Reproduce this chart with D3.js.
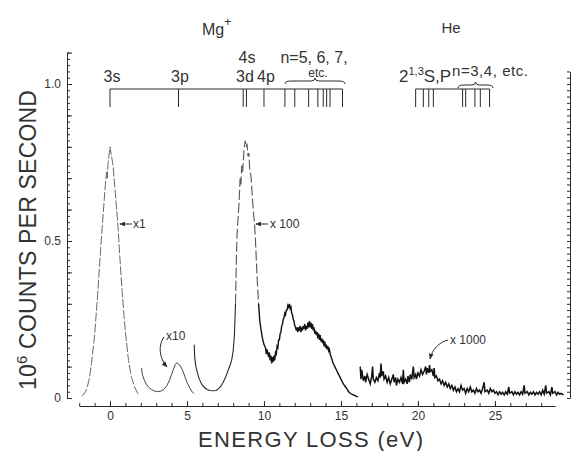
<!DOCTYPE html>
<html>
<head>
<meta charset="utf-8">
<script src="https://cdn.jsdelivr.net/npm/d3@7"></script>
<style>
  body { margin: 0; background: #fff; }
  text { font-family: "Liberation Sans", Arial, sans-serif; fill: #333; }
</style>
</head>
<body>
<script>
const width = 572
const height = 451
const ink = "#2a2a2a"
const faint = "#6a6a6a"

// spectrum pieces, [energy loss eV, counts 1e6/s], each at its own gain
const seg_x1 = [[-1.85,0.006],[-1.7,0.012],[-1.5,0.03],[-1.35,0.06],[-1.2,0.11],[-1.0,0.2],[-0.8,0.33],[-0.6,0.48],[-0.45,0.58],[-0.3,0.68],[-0.22,0.72],[-0.18,0.7],[-0.12,0.75],[0.0,0.8],[0.1,0.77],[0.2,0.74],[0.35,0.65],[0.5,0.56],[0.65,0.44],[0.8,0.33],[1.0,0.21],[1.2,0.12],[1.4,0.065],[1.6,0.035],[1.8,0.015],[1.95,0.008]]

const seg_x10 = [[2.05,0.095],[2.1,0.075],[2.2,0.06],[2.35,0.045],[2.5,0.035],[2.7,0.027],[2.9,0.022],[3.1,0.02],[3.3,0.022],[3.5,0.027],[3.7,0.04],[3.85,0.055],[4.0,0.075],[4.15,0.095],[4.25,0.108],[4.35,0.112],[4.45,0.108],[4.55,0.104],[4.7,0.09],[4.85,0.07],[5.0,0.05],[5.15,0.035],[5.3,0.022],[5.45,0.014]]

const seg_x100 = [[5.47,0.17],[5.5,0.13],[5.58,0.1],[5.68,0.08],[5.8,0.06],[5.95,0.045],[6.1,0.035],[6.3,0.027],[6.5,0.024],[6.7,0.023],[6.9,0.024],[7.05,0.03],[7.2,0.038],[7.35,0.05],[7.5,0.065],[7.65,0.085],[7.8,0.105],[7.9,0.12],[8.0,0.15],[8.08,0.2],[8.15,0.3],[8.2,0.42],[8.25,0.52],[8.3,0.56],[8.38,0.62],[8.45,0.7],[8.5,0.68],[8.55,0.74],[8.62,0.72],[8.7,0.79],[8.78,0.82],[8.85,0.8],[8.9,0.81],[8.96,0.77],[9.02,0.78],[9.08,0.72],[9.15,0.71],[9.22,0.66],[9.3,0.6],[9.38,0.56],[9.45,0.5],[9.52,0.42],[9.58,0.36],[9.65,0.3],[9.72,0.25],[9.8,0.22],[9.9,0.19],[10.0,0.17],[10.1,0.16],[10.15,0.14],[10.2,0.155],[10.3,0.13],[10.35,0.145],[10.4,0.12],[10.45,0.135],[10.5,0.11],[10.55,0.13],[10.6,0.115],[10.65,0.135],[10.7,0.12],[10.75,0.145],[10.8,0.14],[10.85,0.165],[10.9,0.16],[10.95,0.185],[11.0,0.185],[11.05,0.205],[11.1,0.21],[11.15,0.23],[11.2,0.235],[11.25,0.25],[11.3,0.255],[11.35,0.27],[11.4,0.265],[11.45,0.28],[11.5,0.28],[11.55,0.295],[11.6,0.29],[11.65,0.3],[11.7,0.285],[11.75,0.29],[11.8,0.27],[11.85,0.265],[11.9,0.25],[11.95,0.245],[12.0,0.23],[12.05,0.225],[12.1,0.215],[12.15,0.225],[12.2,0.21],[12.25,0.225],[12.3,0.215],[12.35,0.23],[12.4,0.21],[12.45,0.225],[12.5,0.215],[12.55,0.23],[12.6,0.22],[12.65,0.235],[12.7,0.215],[12.75,0.23],[12.8,0.22],[12.85,0.24],[12.9,0.225],[12.95,0.245],[13.0,0.225],[13.05,0.24],[13.1,0.22],[13.15,0.235],[13.2,0.215],[13.25,0.225],[13.3,0.205],[13.35,0.215],[13.4,0.2],[13.45,0.21],[13.5,0.19],[13.55,0.205],[13.6,0.185],[13.65,0.2],[13.7,0.18],[13.75,0.19],[13.8,0.175],[13.85,0.185],[13.9,0.165],[13.95,0.18],[14.0,0.16],[14.05,0.17],[14.1,0.155],[14.15,0.165],[14.2,0.15],[14.25,0.155],[14.3,0.14],[14.4,0.125],[14.5,0.11],[14.6,0.1],[14.7,0.09],[14.8,0.08],[14.9,0.07],[15.0,0.06],[15.1,0.05],[15.2,0.042],[15.3,0.035],[15.4,0.028],[15.5,0.02],[15.6,0.015],[15.7,0.012],[15.8,0.01],[15.9,0.008],[16.0,0.005],[16.1,0.004]]

const seg_x1000 = [[16.25,0.1],[16.3,0.06],[16.35,0.09],[16.45,0.055],[16.55,0.07],[16.6,0.05],[16.7,0.075],[16.8,0.06],[16.9,0.045],[17.0,0.07],[17.05,0.1],[17.1,0.06],[17.2,0.05],[17.3,0.065],[17.4,0.055],[17.5,0.08],[17.55,0.065],[17.6,0.11],[17.65,0.07],[17.75,0.085],[17.8,0.06],[17.9,0.07],[18.0,0.05],[18.1,0.065],[18.2,0.045],[18.3,0.06],[18.4,0.075],[18.45,0.05],[18.55,0.065],[18.6,0.04],[18.7,0.06],[18.8,0.05],[18.9,0.065],[19.0,0.045],[19.05,0.09],[19.1,0.05],[19.2,0.06],[19.3,0.045],[19.35,0.07],[19.45,0.05],[19.5,0.075],[19.6,0.06],[19.7,0.1],[19.75,0.065],[19.85,0.075],[19.9,0.06],[20.0,0.08],[20.1,0.07],[20.2,0.09],[20.3,0.075],[20.4,0.085],[20.5,0.1],[20.55,0.075],[20.6,0.095],[20.7,0.08],[20.75,0.105],[20.8,0.085],[20.9,0.09],[21.0,0.07],[21.05,0.095],[21.1,0.065],[21.2,0.07],[21.3,0.055],[21.4,0.06],[21.5,0.045],[21.6,0.055],[21.7,0.04],[21.8,0.05],[21.9,0.035],[22.0,0.045],[22.1,0.03],[22.2,0.04],[22.3,0.025],[22.4,0.035],[22.5,0.02],[22.6,0.03],[22.7,0.02],[22.8,0.04],[22.9,0.025],[23.0,0.03],[23.1,0.015],[23.2,0.03],[23.3,0.02],[23.4,0.035],[23.5,0.02],[23.6,0.025],[23.7,0.015],[23.8,0.03],[23.9,0.02],[24.0,0.025],[24.1,0.015],[24.2,0.03],[24.3,0.05],[24.35,0.02],[24.5,0.025],[24.6,0.015],[24.7,0.03],[24.8,0.02],[24.9,0.025],[25.0,0.015],[25.1,0.02],[25.2,0.01],[25.3,0.02],[25.4,0.012],[25.5,0.018],[25.6,0.01],[25.7,0.02],[25.8,0.012],[25.9,0.035],[25.95,0.015],[26.1,0.02],[26.2,0.01],[26.3,0.02],[26.4,0.012],[26.5,0.018],[26.6,0.01],[26.7,0.02],[26.8,0.012],[26.9,0.04],[26.95,0.015],[27.1,0.02],[27.2,0.01],[27.3,0.018],[27.4,0.012],[27.5,0.02],[27.6,0.01],[27.7,0.018],[27.8,0.012],[27.9,0.02],[28.0,0.01],[28.1,0.025],[28.2,0.012],[28.3,0.04],[28.35,0.015],[28.5,0.02],[28.6,0.01],[28.7,0.035],[28.75,0.015],[28.9,0.02],[29.0,0.01],[29.1,0.018],[29.2,0.012],[29.3,0.015],[29.45,0.01]]

// level positions (eV) drawn above the spectrum
const mg_levels = [0, 4.45, 8.65, 8.86, 10.0, 11.36, 12.0, 12.9, 13.5, 13.85, 14.07, 14.29, 15.1]
const he_levels = [19.85, 20.35, 20.7, 21.0, 22.9, 23.1, 23.7, 24.05, 24.65]

const x_major = [0, 5, 10, 15, 20, 25]
const y_labels = [0, 0.5, 1.0]
const y_label_text = ["0", "0.5", "1.0"]

var svg = d3.select("body").append("svg")
            .attr("width", width)
            .attr("height", height);

var x = d3.scaleLinear().domain([-2, 28.9]).range([79.2, 555]);
var y = d3.scaleLinear().domain([0, 1.1]).range([398, 398 - 1.1 * 314]);

// x axis, ticks point up
svg.append("g")
   .attr("transform", "translate(0,406)")
   .call(d3.axisBottom(x).tickValues(d3.range(-2, 29, 1)).tickSize(-3).tickSizeOuter(0).tickFormat(""));
svg.append("g")
   .attr("transform", "translate(0,406)")
   .call(d3.axisBottom(x).tickValues(x_major).tickSize(-5).tickSizeOuter(0).tickPadding(5))
   .call(g => g.selectAll("text").style("font-size", "12px"));

// y axis left, ticks point right
svg.append("g")
   .attr("transform", "translate(67,0)")
   .call(d3.axisLeft(y).tickValues(d3.range(0, 1.101, 0.02)).tickSize(-3).tickSizeOuter(0).tickFormat(""));
svg.append("g")
   .attr("transform", "translate(67,0)")
   .call(d3.axisLeft(y).tickValues(d3.range(0, 1.101, 0.1)).tickSize(-5).tickSizeOuter(0).tickFormat(""));
svg.append("g")
   .selectAll("text")
   .data(y_labels)
   .join("text")
   .attr("x", 61)
   .attr("y", d => y(d) + 4)
   .attr("text-anchor", "end")
   .style("font-size", "12px")
   .text((d, i) => y_label_text[i]);

// right frame edge
svg.append("g")
   .attr("transform", "translate(570,0)")
   .call(d3.axisRight(d3.scaleLinear().domain([0, 1.04]).range([398, 398 - 1.04 * 314]))
           .tickValues(d3.range(0, 1.041, 0.02)).tickSize(-3).tickSizeOuter(0).tickFormat(""));

svg.selectAll(".domain, .tick line").attr("stroke", ink);

// spectrum
var line = d3.line().x(d => x(d[0])).y(d => y(d[1]));
svg.append("path").datum(seg_x1).attr("d", line)
   .attr("fill", "none").attr("stroke", faint).attr("stroke-width", 1)
   .attr("stroke-dasharray", "9,2");
svg.append("path").datum(seg_x10).attr("d", line)
   .attr("fill", "none").attr("stroke", "#444").attr("stroke-width", 1);
// the steep x100 peak was traced faint and broken, the rest solid
svg.append("path").datum(seg_x100.filter(d => d[0] <= 8.15)).attr("d", line)
   .attr("fill", "none").attr("stroke", ink).attr("stroke-width", 1.1);
svg.append("path").datum(seg_x100.filter(d => d[0] >= 8.15 && d[0] <= 9.65)).attr("d", line)
   .attr("fill", "none").attr("stroke", "#555").attr("stroke-width", 1.1)
   .attr("stroke-dasharray", "10,3");
svg.append("path").datum(seg_x100.filter(d => d[0] >= 9.65)).attr("d", line)
   .attr("fill", "none").attr("stroke", "#111").attr("stroke-width", 1.4);
svg.append("path").datum(seg_x1000).attr("d", line)
   .attr("fill", "none").attr("stroke", "#111").attr("stroke-width", 1.5);

// level diagrams
function levels(arr) {
  svg.append("line")
     .attr("x1", x(arr[0])).attr("x2", x(arr[arr.length - 1]))
     .attr("y1", 89).attr("y2", 89)
     .attr("stroke", ink).attr("stroke-width", 1);
  svg.append("g").selectAll("line").data(arr).join("line")
     .attr("x1", d => x(d)).attr("x2", d => x(d))
     .attr("y1", 89).attr("y2", 107)
     .attr("stroke", ink).attr("stroke-width", 1);
}
levels(mg_levels);
levels(he_levels);

// curly braces
function brace(x0, x1, yb) {
  var xm = (x0 + x1) / 2;
  svg.append("path")
     .attr("d", `M${x0},${yb + 3} Q${x0},${yb} ${x0 + 6},${yb} L${xm - 4},${yb} Q${xm},${yb} ${xm},${yb - 3} Q${xm},${yb} ${xm + 4},${yb} L${x1 - 6},${yb} Q${x1},${yb} ${x1},${yb + 3}`)
     .attr("fill", "none").attr("stroke", ink).attr("stroke-width", 1);
}
brace(285, 345, 81);
brace(458, 493, 85);

function label(t, x0, y0, size, anchor) {
  return svg.append("text").attr("x", x0).attr("y", y0)
            .attr("text-anchor", anchor || "middle")
            .style("font-size", size + "px").text(t);
}
label("3s", 112, 82, 16);
label("3p", 180, 82, 16);
label("4s", 247, 63, 16);
label("3d", 245, 82, 16);
label("4p", 266, 82, 16);
label("n=5, 6, 7,", 314, 63, 16);
label("etc.", 318, 77, 12);

var t1 = label("2", 399, 82, 17, "start");
t1.append("tspan").attr("dy", -7).style("font-size", "11px").text("1,3");
t1.append("tspan").attr("dy", 7).text("S,P");
label("n=3,4, etc.", 452, 76, 15, "start").attr("textLength", 76).attr("lengthAdjust", "spacing");

var mg = label("Mg", 202, 35, 16, "start");
mg.append("tspan").attr("dy", -9).style("font-size", "12px").text("+");
label("He", 451, 33, 15);

// axis titles
var yt = svg.append("text")
            .attr("transform", "translate(36,240) rotate(-90)")
            .attr("text-anchor", "middle")
            .attr("textLength", 300).attr("lengthAdjust", "spacing")
            .style("font-size", "23px");
yt.append("tspan").text("10");
yt.append("tspan").attr("dy", -9).style("font-size", "15px").text("6");
yt.append("tspan").attr("dy", 9).text(" COUNTS PER SECOND");

svg.append("text")
   .attr("x", 198).attr("y", 447)
   .attr("textLength", 225).attr("lengthAdjust", "spacing")
   .style("font-size", "22px")
   .text("ENERGY LOSS (eV)");

// gain annotations
svg.append("defs").append("marker")
   .attr("id", "ah").attr("viewBox", "0 0 10 10")
   .attr("refX", 9).attr("refY", 5)
   .attr("markerWidth", 6).attr("markerHeight", 6)
   .attr("orient", "auto")
   .append("path").attr("d", "M0,1 L10,5 L0,9 z").attr("fill", ink);

function note(t, tx, ty, d) {
  svg.append("path").attr("d", d)
     .attr("fill", "none").attr("stroke", ink).attr("stroke-width", 1)
     .attr("marker-end", "url(#ah)");
  label(t, tx, ty, 12, "start");
}
note("x1", 133, 228, "M132,224 L120,224");
note("x 100", 270, 228, "M268,224 L256,224");
note("x10", 166, 340, "M164,337 C158,345 159,358 167,367");
note("x 1000", 450, 344, "M448,340 C439,342 432,350 430,359");
</script>
</body>
</html>
